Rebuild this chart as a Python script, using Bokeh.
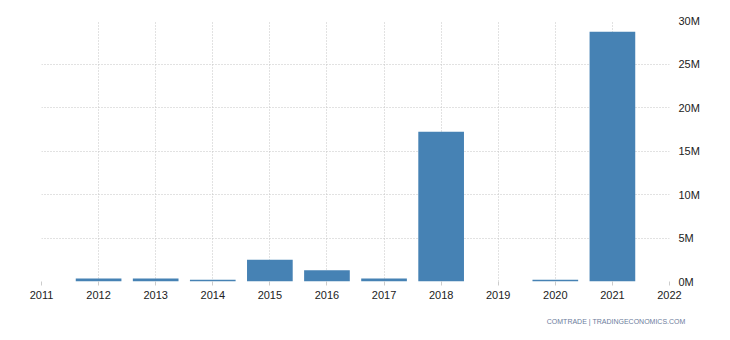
from bokeh.plotting import figure
from bokeh.models import FixedTicker, Title, Range1d
from bokeh.embed import file_html
from bokeh.resources import INLINE

years = [2012, 2013, 2014, 2015, 2016, 2017, 2018, 2019, 2020, 2021]
values_m = [0.35, 0.35, 0.2, 2.5, 1.3, 0.35, 17.2, 0.0, 0.2, 28.7]
x_ticks = list(range(2011, 2023))
y_ticks = [0, 5, 10, 15, 20, 25, 30]
y_labels = {v: f"{v}M" for v in y_ticks}
source_text = "COMTRADE | TRADINGECONOMICS.COM"

p = figure(width=730, height=340, output_backend="svg", toolbar_location=None,
           x_range=Range1d(2011, 2022), y_range=Range1d(0, 30),
           min_border_left=41, min_border_right=61, min_border_top=20, min_border_bottom=59,
           y_axis_location="right")
p.outline_line_color = None
p.background_fill_color = "white"
p.border_fill_color = "white"

p.vbar(x=years, top=values_m, width=0.8, fill_color="#4682B4", line_color=None)

font = "Liberation Sans"
xa = p.xaxis[0]
xa.ticker = FixedTicker(ticks=x_ticks)
xa.axis_line_color = None
xa.major_tick_line_color = "#cccccc"
xa.major_tick_out = 4
xa.major_tick_in = 0
xa.minor_tick_line_color = None
xa.major_label_text_font = font
xa.major_label_text_font_size = "11px"
xa.major_label_text_color = "#222222"
xa.major_label_standoff = 5

ya = p.yaxis[0]
ya.ticker = FixedTicker(ticks=y_ticks)
ya.major_label_overrides = y_labels
ya.axis_line_color = None
ya.major_tick_line_color = None
ya.minor_tick_line_color = None
ya.major_label_text_font = font
ya.major_label_text_font_size = "11px"
ya.major_label_text_color = "#222222"
ya.major_label_standoff = 3

for g in (p.xgrid[0], p.ygrid[0]):
    g.grid_line_color = "#c4c4c4"
    g.grid_line_dash = "1 2"
    g.grid_line_width = 1

p.add_layout(Title(text=source_text, align="right", text_font=font, text_font_size="7px",
                   text_font_style="normal", text_color="#6d7d9c",
                   standoff=29, offset=-16), "below")

open("out.html", "w").write(file_html(p, INLINE))
